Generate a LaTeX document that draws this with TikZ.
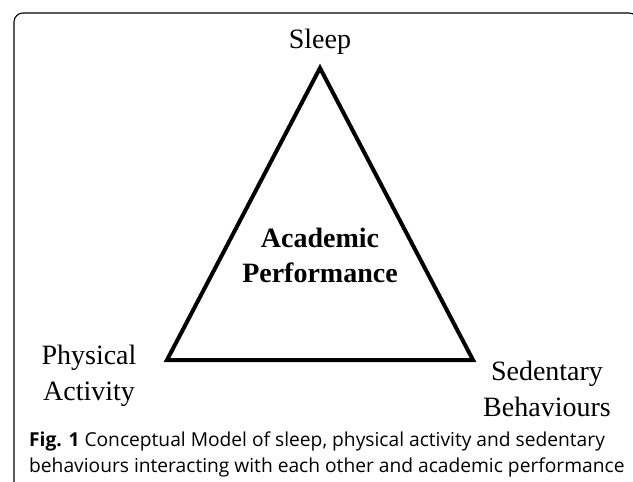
\documentclass[tikz,border=0pt]{standalone}
\usepackage{fontspec}
\setmainfont{Liberation Serif}
\newfontfamily\capfont{Open Sans}
\usetikzlibrary{positioning}

\begin{document}
\begin{tikzpicture}[
		x=1pt, y=-1pt,
		corner/.style={font=\fontsize{28}{36}\selectfont, align=center, inner sep=0pt},
		centre/.style={corner, font=\fontsize{28}{35}\selectfont\bfseries},
		caption/.style={font=\capfont\fontsize{19.2}{26}\selectfont, align=left, inner sep=0pt, anchor=base west},
		line join=miter]
	\useasboundingbox (0,0) rectangle (633,482);
	%% frame of the figure
	\draw[line width=1.1pt, rounded corners=9pt] (14,490) -- (14,13) -- (638,13) -- (638,490);
	%% the three corners
	\coordinate (top) at (320,68);
	\coordinate (left) at (167,360);
	\coordinate (right) at (473,360);
	\draw[line width=4pt] (top) -- (left) -- (right) -- cycle;
	%% labels (base = last line)
	\node[corner, anchor=base] (sleep) at (320,48) {Sleep};
	\node[corner, anchor=base] (pa) at (89,400) {Physical\\Activity};
	\node[corner, anchor=base] (sb) at (547,416) {Sedentary\\Behaviours};
	\node[centre, anchor=base] (ap) at (320,282) {Academic\\Performance};
	%% caption
	\node[caption] (cap) at (29,472) {{\bfseries Fig. 1} Conceptual Model of sleep, physical activity and sedentary\\behaviours interacting with each other and academic performance};
\end{tikzpicture}
\end{document}
